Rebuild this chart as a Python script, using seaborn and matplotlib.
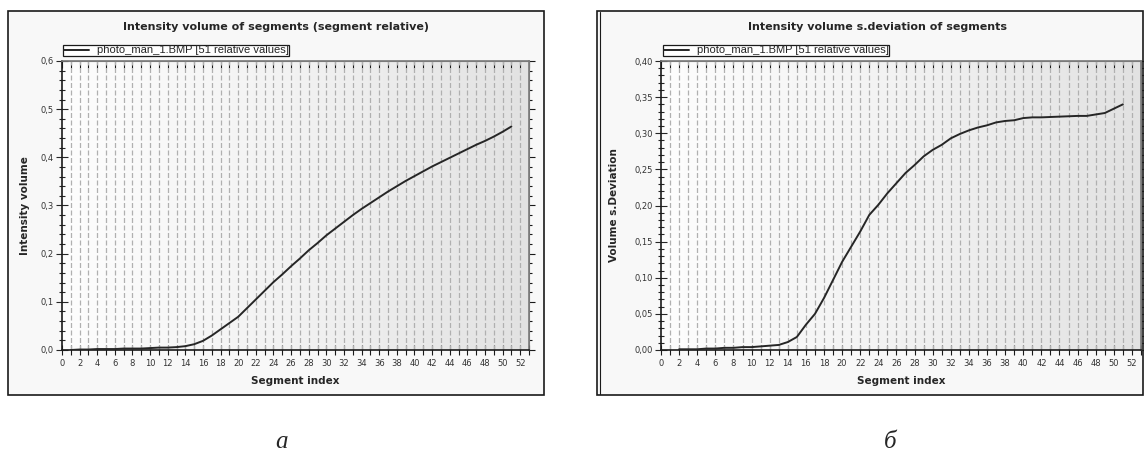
import numpy as np
import pandas as pd
import seaborn as sns
import matplotlib.pyplot as plt
from matplotlib.ticker import MultipleLocator, FuncFormatter, NullFormatter
from matplotlib.patches import Rectangle
from matplotlib.colors import LinearSegmentedColormap
from matplotlib.lines import Line2D

# data
segments = list(range(1, 52))
intensity_volume = [0.000, 0.001, 0.001, 0.002, 0.002, 0.002, 0.003, 0.003, 0.003, 0.004,
                    0.005, 0.005, 0.006, 0.008, 0.012, 0.019, 0.030, 0.043, 0.056, 0.069,
                    0.087, 0.105, 0.123, 0.141, 0.157, 0.174, 0.190, 0.207, 0.222, 0.238,
                    0.252, 0.266, 0.280, 0.293, 0.305, 0.317, 0.329, 0.340, 0.351, 0.361,
                    0.371, 0.381, 0.390, 0.399, 0.408, 0.417, 0.426, 0.434, 0.443, 0.453,
                    0.464]
sdev_segments = list(range(2, 52))
volume_sdev = [0.001, 0.001, 0.001, 0.002, 0.002, 0.003, 0.003, 0.004, 0.004, 0.005,
               0.006, 0.007, 0.011, 0.018, 0.035, 0.050, 0.072, 0.097, 0.122, 0.143,
               0.164, 0.187, 0.201, 0.217, 0.231, 0.245, 0.256, 0.268, 0.277, 0.284,
               0.293, 0.299, 0.304, 0.308, 0.311, 0.315, 0.317, 0.318, 0.321, 0.322,
               0.322, 0.3225, 0.323, 0.3235, 0.324, 0.324, 0.326, 0.328, 0.334, 0.340]
legend_label = "photo_man_1.BMP [51 relative values]"
xtick_labels = list(range(0, 53, 2))

sns.set_style("white")
plt.rcParams['font.family'] = ['DejaVu Sans']

W, H = 1144, 459
fig = plt.figure(figsize=(W / 100, H / 100), dpi=100)
fig.patch.set_facecolor('white')

bg_cmap = LinearSegmentedColormap.from_list('bg', ['#fdfdfd', '#f2f2f2', '#e2e2e2'])


def fx(px):
    return px / W


def fy(py):
    return 1 - py / H


def frame(x0, x1, y0, y1, double=False):
    fig.patches.append(Rectangle((fx(x0), fy(y1)), fx(x1 - x0), (y1 - y0) / H,
                                 transform=fig.transFigure, facecolor='#f8f8f8',
                                 edgecolor='#1a1a1a', lw=1.2, zorder=-2))
    if double:
        fig.add_artist(Line2D([fx(x0 + 3), fx(x0 + 3)], [fy(y1 - 1), fy(y0 + 1)],
                              transform=fig.transFigure, color='#1a1a1a', lw=0.8))


def panel(ax_px, x, y, ytop, major, minor, fmt, ylabel, ylabel_x, title, title_x, leg_xy):
    x0, x1, ytop_px, ybot_px = ax_px
    ax = fig.add_axes([fx(x0), fy(ybot_px), fx(x1 - x0), (ybot_px - ytop_px) / H])
    ax.set_facecolor('none')
    ax.imshow(np.linspace(0, 1, 256).reshape(1, -1), cmap=bg_cmap, aspect='auto',
              extent=[0, 53, 0, ytop], zorder=0)
    for gx in range(1, 53):
        ax.axvline(gx, color='#b0b0b0', lw=0.9, ls=(0, (4, 2)), zorder=1)
    df = pd.DataFrame({'x': x, 'y': y})
    sns.lineplot(data=df, x='x', y='y', ax=ax, color='#262626', lw=1.4, zorder=3,
                 label=legend_label)
    ax.set_xlim(0, 53)
    ax.set_ylim(0, ytop)
    ax.set_xticks(xtick_labels)
    ax.xaxis.set_minor_locator(MultipleLocator(1))
    ax.yaxis.set_major_locator(MultipleLocator(major))
    ax.yaxis.set_minor_locator(MultipleLocator(minor))
    ax.yaxis.set_major_formatter(FuncFormatter(lambda v, p: fmt.format(v).replace('.', ',')))
    ax.tick_params(axis='x', which='both', direction='inout', bottom=True, top=False,
                   length=7, width=0.8, labelsize=6, colors='#1a1a1a', pad=3)
    ax.tick_params(axis='y', which='major', direction='inout', left=True, right=False,
                   length=8, width=0.8, labelsize=6, pad=2)
    ax.tick_params(axis='y', which='minor', direction='inout', left=True, right=False,
                   length=5, width=0.8)
    for s in ['left', 'bottom']:
        ax.spines[s].set_color('#1a1a1a')
        ax.spines[s].set_linewidth(1.2)
    for s in ['top', 'right']:
        ax.spines[s].set_color('#7a7a7a')
        ax.spines[s].set_linewidth(1.2)
    for lab in ax.get_xticklabels() + ax.get_yticklabels():
        lab.set_color('#333333')

    # top ticks hang inwards, right ticks point out
    top = ax.secondary_xaxis('top')
    top.set_xticks(range(0, 54))
    top.xaxis.set_major_formatter(NullFormatter())
    top.tick_params(direction='in', length=5, width=0.8, color='#1a1a1a')
    top.spines['top'].set_color('#7a7a7a')
    right = ax.secondary_yaxis('right')
    right.yaxis.set_major_locator(MultipleLocator(major))
    right.yaxis.set_minor_locator(MultipleLocator(minor))
    right.yaxis.set_major_formatter(NullFormatter())
    right.tick_params(which='major', direction='out', length=4, width=0.8, color='#1a1a1a')
    right.tick_params(which='minor', direction='out', length=2.5, width=0.8, color='#1a1a1a')
    right.spines['right'].set_color('#7a7a7a')

    ax.set_xlabel('Segment index', fontsize=7.5, fontweight='bold', labelpad=6)
    ax.set_ylabel('')
    fig.text(fx(ylabel_x), fy((ytop_px + ybot_px) / 2), ylabel, rotation=90,
             ha='center', va='center', fontsize=7.5, fontweight='bold')
    fig.text(fx(title_x), fy(27), title, ha='center', va='center',
             fontsize=8, fontweight='bold')
    ax.legend(loc='lower left', bbox_to_anchor=(fx(leg_xy[0]), fy(leg_xy[1])),
              bbox_transform=fig.transFigure, frameon=True, fancybox=False,
              edgecolor='#1a1a1a', facecolor='white', framealpha=1,
              prop={'family': 'Liberation Sans', 'size': 8}, borderpad=0.05,
              handlelength=2.3, handletextpad=0.7, borderaxespad=0)
    ax.get_legend().get_frame().set_linewidth(0.9)
    return ax


frame(8, 544, 11, 395)
frame(597, 1143, 11, 395, double=True)

panel((62, 529, 61, 350), segments, intensity_volume, 0.6, 0.1, 0.02, '{:.1f}',
      'Intensity volume', 25, 'Intensity volume of segments (segment relative)', 276,
      (63, 56))
panel((661, 1141, 61, 350), sdev_segments, volume_sdev, 0.40, 0.05, 0.01, '{:.2f}',
      'Volume s.Deviation', 614, 'Intensity volume s.deviation of segments', 877,
      (663, 56))

fig.text(fx(282), fy(442), 'а', ha='center', va='center', fontsize=18,
         family='Liberation Serif', style='italic')
fig.text(fx(890), fy(442), 'б', ha='center', va='center', fontsize=18,
         family='Liberation Serif', style='italic')

fig.savefig('out.png', dpi=100)
